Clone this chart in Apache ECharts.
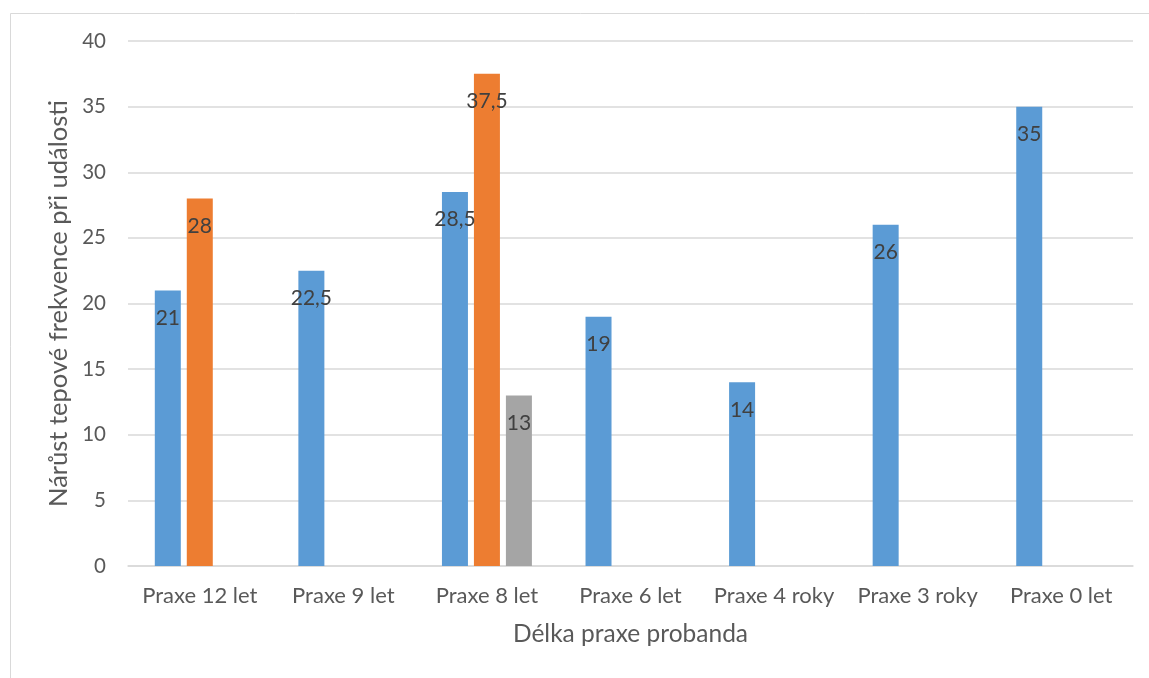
<!DOCTYPE html>
<html>
<head>
<meta charset="utf-8">
<script src="https://cdn.jsdelivr.net/npm/echarts@6/dist/echarts.min.js"></script>
<style>
  html, body { margin: 0; padding: 0; background: #ffffff; }
  #chart { width: 1149px; height: 678px; }
</style>
</head>
<body>
<div id="chart"></div>
<script>
// Categories: length of practice of each subject
const categories = ['Praxe 12 let', 'Praxe 9 let', 'Praxe 8 let', 'Praxe 6 let', 'Praxe 4 roky', 'Praxe 3 roky', 'Praxe 0 let'];

// Heart-rate increase during the event (null = no measurement)
const series1 = [21, 22.5, 28.5, 19, 14, 26, 35];
const series2 = [28, null, 37.5, null, null, null, null];
const series3 = [null, null, 13, null, null, null, null];

const seriesColors = ['#5b9bd5', '#ed7d31', '#a5a5a5'];
const yTicks = { min: 0, max: 40, interval: 5 };

const FONT = 'Lato, "Open Sans", sans-serif';

function fmt(v) {
  return String(v).replace('.', ',');
}

function barSeries(name, data, color) {
  return {
    name: name,
    type: 'bar',
    data: data,
    barWidth: 26,
    barGap: '23%',
    itemStyle: { color: color },
    label: {
      show: true,
      position: 'insideTop',
      distance: 17,
      color: '#404040',
      fontFamily: FONT,
      fontSize: 21,
      formatter: p => fmt(p.value)
    }
  };
}

const chart = echarts.init(document.getElementById('chart'), null, { renderer: 'canvas' });

chart.setOption({
  animation: false,
  backgroundColor: '#ffffff',
  graphic: [{
    type: 'rect',
    left: 8,
    top: 11,
    shape: { width: 1200, height: 700 },
    style: { fill: 'none', stroke: '#d9d9d9', lineWidth: 1 },
    z: -10
  }],
  grid: { left: 128, right: 16, top: 41, bottom: 112, containLabel: false },
  xAxis: {
    type: 'category',
    data: categories,
    name: 'Délka praxe probanda',
    nameLocation: 'middle',
    nameGap: 56,
    nameTextStyle: { color: '#595959', fontFamily: FONT, fontSize: 24.5 },
    axisLine: { show: true, lineStyle: { color: '#d9d9d9', width: 1.5 } },
    axisTick: { show: false },
    axisLabel: { color: '#595959', fontFamily: FONT, fontSize: 22, margin: 19, interval: 0 }
  },
  yAxis: {
    type: 'value',
    min: yTicks.min,
    max: yTicks.max,
    interval: yTicks.interval,
    name: 'Nárůst tepové frekvence při události',
    nameLocation: 'middle',
    nameGap: 55,
    nameTextStyle: { color: '#595959', fontFamily: FONT, fontSize: 25.5 },
    axisLine: { show: false },
    axisTick: { show: false },
    axisLabel: { color: '#595959', fontFamily: FONT, fontSize: 20.5, margin: 22 },
    splitLine: { lineStyle: { color: '#d9d9d9', width: 1.5 } }
  },
  series: [
    barSeries('Řada 1', series1, seriesColors[0]),
    barSeries('Řada 2', series2, seriesColors[1]),
    barSeries('Řada 3', series3, seriesColors[2])
  ]
});
</script>
</body>
</html>
